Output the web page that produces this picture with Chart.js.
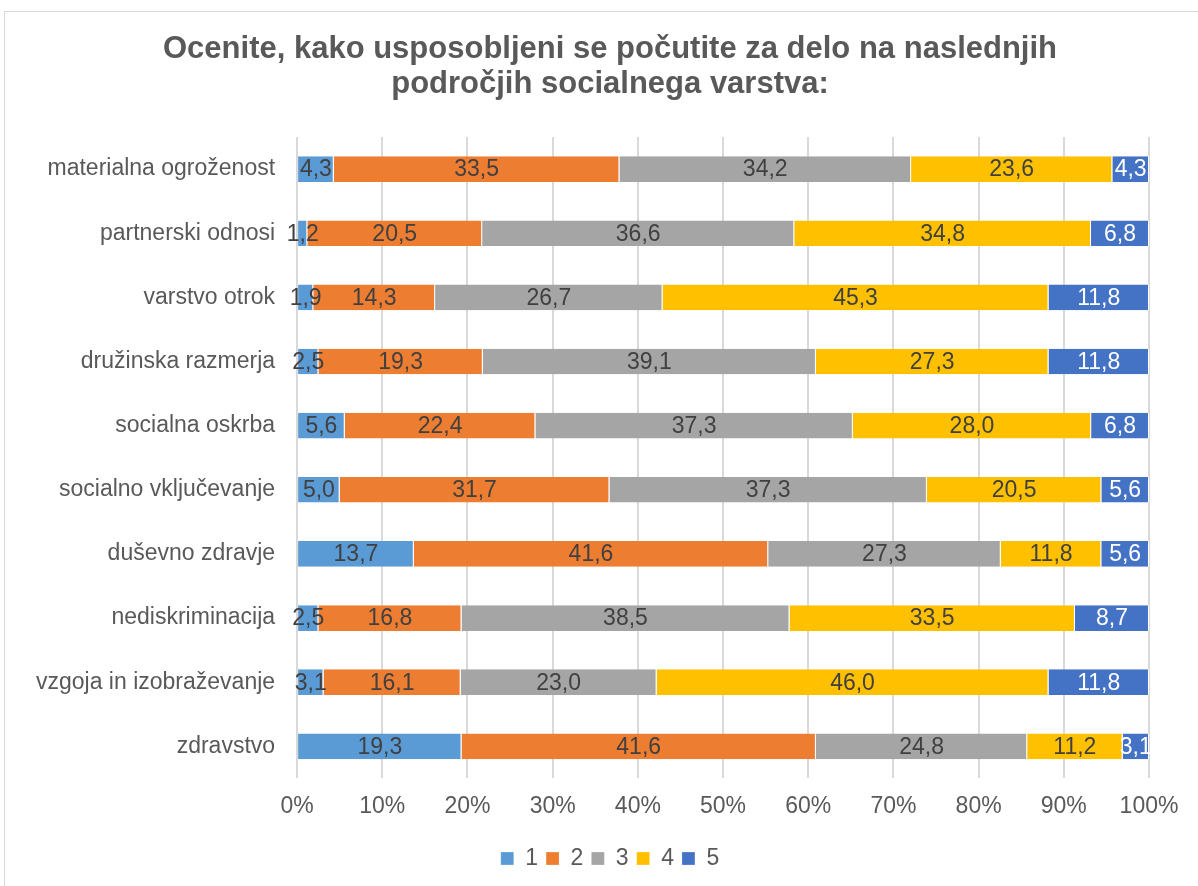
<!DOCTYPE html>
<html>
<head>
<meta charset="utf-8">
<script src="https://cdn.jsdelivr.net/npm/chart.js@4"></script>
<style>
  html, body { margin: 0; padding: 0; background: #ffffff; overflow: hidden; }
  #wrap { position: relative; width: 1198px; height: 886px; overflow: hidden; }
  #frame { position: absolute; left: 4px; top: 11px; width: 1400px; height: 1000px; border: 1px solid #D9D9D9; }
  #c { position: absolute; left: 0; top: 0; }
</style>
</head>
<body>
<div id="wrap"><div id="frame"></div><canvas id="c" width="1206" height="886"></canvas></div>
<script>
const categories = [
  'materialna ogroženost',
  'partnerski odnosi',
  'varstvo otrok',
  'družinska razmerja',
  'socialna oskrba',
  'socialno vključevanje',
  'duševno zdravje',
  'nediskriminacija',
  'vzgoja in izobraževanje',
  'zdravstvo'
];
const seriesNames = ['1', '2', '3', '4', '5'];
const s1 = [4.3, 1.2, 1.9, 2.5, 5.6, 5.0, 13.7, 2.5, 3.1, 19.3];
const s2 = [33.5, 20.5, 14.3, 19.3, 22.4, 31.7, 41.6, 16.8, 16.1, 41.6];
const s3 = [34.2, 36.6, 26.7, 39.1, 37.3, 37.3, 27.3, 38.5, 23.0, 24.8];
const s4 = [23.6, 34.8, 45.3, 27.3, 28.0, 20.5, 11.8, 33.5, 46.0, 11.2];
const s5 = [4.3, 6.8, 11.8, 11.8, 6.8, 5.6, 5.6, 8.7, 11.8, 3.1];
const xTickLabels = ['0%', '10%', '20%', '30%', '40%', '50%', '60%', '70%', '80%', '90%', '100%'];
const titleLines = ['Ocenite, kako usposobljeni se počutite za delo na naslednjih', 'področjih socialnega varstva:'];

const colors = ['#5B9BD5', '#ED7D31', '#A5A5A5', '#FFC000', '#4472C4'];
const labelColors = ['#404040', '#404040', '#404040', '#404040', '#ffffff'];
const raw = [s1, s2, s3, s4, s5];
const totals = categories.map((_, i) => raw.reduce((a, s) => a + s[i], 0));

const FONT = "'Liberation Sans', Arial, sans-serif";

const datasets = raw.map((s, k) => ({
  label: seriesNames[k],
  data: s.map((v, i) => v / totals[i] * 100),
  rawValues: s,
  backgroundColor: colors[k],
  borderColor: '#ffffff',
  borderWidth: { left: 0, right: 1, top: 0, bottom: 0 },
  borderSkipped: false,
  categoryPercentage: 0.8,
  barPercentage: 0.5
}));

const valueLabels = {
  id: 'valueLabels',
  afterDatasetsDraw(chart) {
    const ctx = chart.ctx;
    ctx.save();
    ctx.font = '23px ' + FONT;
    ctx.textAlign = 'center';
    ctx.textBaseline = 'middle';
    chart.data.datasets.forEach((ds, k) => {
      const meta = chart.getDatasetMeta(k);
      meta.data.forEach((bar, i) => {
        const p = bar.getProps(['x', 'base', 'y'], true);
        const cx = (p.x + p.base) / 2;
        ctx.fillStyle = labelColors[k];
        ctx.fillText(ds.rawValues[i].toFixed(1).replace('.', ','), cx, p.y + 1);
      });
    });
    ctx.restore();
  }
};

new Chart(document.getElementById('c'), {
  type: 'bar',
  data: { labels: categories, datasets: datasets },
  plugins: [valueLabels],
  options: {
    indexAxis: 'y',
    responsive: false,
    animation: false,
    layout: { padding: { left: 14, right: 0, top: 0, bottom: 6 } },
    scales: {
      x: {
        stacked: true,
        min: 0,
        max: 100,
        border: { display: false },
        grid: { color: '#D9D9D9', lineWidth: 2, drawTicks: false },
        afterFit: (scale) => { scale.paddingRight = 57; scale.height += 5; },
        ticks: {
          stepSize: 10,
          padding: 14,
          color: '#595959',
          font: { family: FONT, size: 23 },
          callback: (v, i) => xTickLabels[i]
        }
      },
      y: {
        stacked: true,
        border: { display: false },
        grid: { display: false, drawTicks: false },
        ticks: {
          padding: 22,
          color: '#595959',
          font: { family: FONT, size: 23 }
        }
      }
    },
    plugins: {
      title: {
        display: true,
        text: titleLines,
        color: '#595959',
        font: { family: FONT, size: 31, weight: 'bold', lineHeight: 35 / 31 },
        padding: { top: 32, bottom: 35 }
      },
      legend: {
        position: 'bottom',
        labels: {
          color: '#595959',
          font: { family: FONT, size: 23 },
          boxWidth: 13,
          boxHeight: 13,
          padding: 8
        }
      },
      tooltip: { enabled: false }
    }
  }
});
</script>
</body>
</html>
